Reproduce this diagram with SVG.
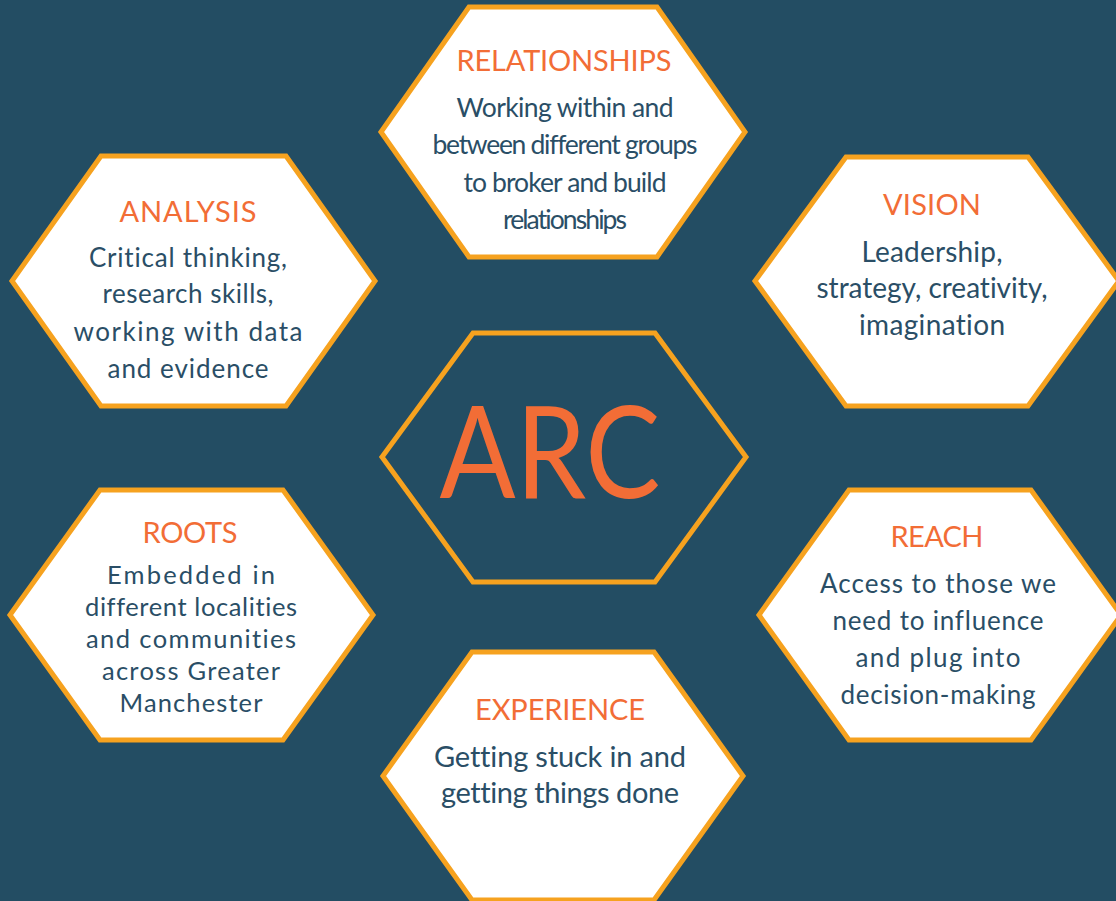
<svg xmlns="http://www.w3.org/2000/svg" width="1116" height="901" viewBox="0 0 1116 901">
<style>
text{font-variant-ligatures:none;font-feature-settings:"liga" 0}
.hex{fill:#ffffff;stroke:#f6a21f;stroke-width:5;stroke-linejoin:miter}
.core{fill:none;stroke:#f6a21f;stroke-width:5}
.t{font-family:Lato,"Liberation Sans",sans-serif;font-size:29px;fill:#f26d36;text-anchor:middle}
.b{font-family:Lato,"Liberation Sans",sans-serif;fill:#2a4e66;text-anchor:middle}
.arc{font-family:Lato,"Liberation Sans",sans-serif;font-size:128px;fill:#f26d36;text-anchor:middle}
</style>
<rect x="0" y="0" width="1116" height="901" fill="#234d63"/>
<g id="connectors"></g>
<g id="arc">
<polygon class="core" points="382,457 473,333 655,333 746,457 655,582 473,582"/>
<text class="arc" x="550" y="498" textLength="221" lengthAdjust="spacingAndGlyphs">ARC</text>
</g>
<g id="relationships">
<polygon class="hex" points="381,132 469,7 657,7 745,132 657,257 469,257"/>
<text class="t" x="564" y="71" textLength="215">RELATIONSHIPS</text>
<text class="b" font-size="26.5" x="565" y="117" textLength="217">Working within and</text>
<text class="b" font-size="26.5" x="565" y="154" textLength="265">between different groups</text>
<text class="b" font-size="26.5" x="565" y="192" textLength="203">to broker and build</text>
<text class="b" font-size="26.5" x="565" y="229" textLength="124">relationships</text>
</g>
<g id="analysis">
<polygon class="hex" points="12,281 101,156 286,156 375,281 286,406 101,406"/>
<text class="t" x="188" y="222" textLength="137">ANALYSIS</text>
<text class="b" font-size="26" x="188" y="267" textLength="198">Critical thinking,</text>
<text class="b" font-size="26" x="188" y="303" textLength="171">research skills,</text>
<text class="b" font-size="26" x="188" y="341" textLength="229">working with data</text>
<text class="b" font-size="26" x="188" y="378" textLength="161">and evidence</text>
</g>
<g id="vision">
<polygon class="hex" points="755,281 846,157 1028,157 1119,281 1028,406 846,406"/>
<text class="t" x="932" y="215" textLength="98">VISION</text>
<text class="b" font-size="28" x="932" y="262" textLength="141">Leadership,</text>
<text class="b" font-size="28" x="932" y="298" textLength="231">strategy, creativity,</text>
<text class="b" font-size="28" x="932" y="335" textLength="146">imagination</text>
</g>
<g id="roots">
<polygon class="hex" points="10,615 100,490 283,490 373,615 283,740 100,740"/>
<text class="t" x="190" y="543" textLength="95">ROOTS</text>
<text class="b" font-size="25.5" x="191" y="584" textLength="168">Embedded in</text>
<text class="b" font-size="25.5" x="191" y="616" textLength="212">different localities</text>
<text class="b" font-size="25.5" x="191" y="648" textLength="210">and communities</text>
<text class="b" font-size="25.5" x="191" y="680" textLength="178">across Greater</text>
<text class="b" font-size="25.5" x="191" y="712" textLength="143">Manchester</text>
</g>
<g id="reach">
<polygon class="hex" points="759,615 849,490 1031,490 1121,615 1031,740 849,740"/>
<text class="t" x="937" y="547" textLength="93">REACH</text>
<text class="b" font-size="26" x="938" y="593" textLength="236">Access to those we</text>
<text class="b" font-size="26" x="938" y="630" textLength="211">need to influence</text>
<text class="b" font-size="26" x="938" y="667" textLength="165">and plug into</text>
<text class="b" font-size="26" x="938" y="704" textLength="195">decision-making</text>
</g>
<g id="experience">
<polygon class="hex" points="383,776 472,652 654,652 743,776 654,900 472,900"/>
<text class="t" x="560" y="720" textLength="170">EXPERIENCE</text>
<text class="b" font-size="29" x="560" y="767" textLength="252">Getting stuck in and</text>
<text class="b" font-size="29" x="560" y="803" textLength="238">getting things done</text>
</g>
</svg>
